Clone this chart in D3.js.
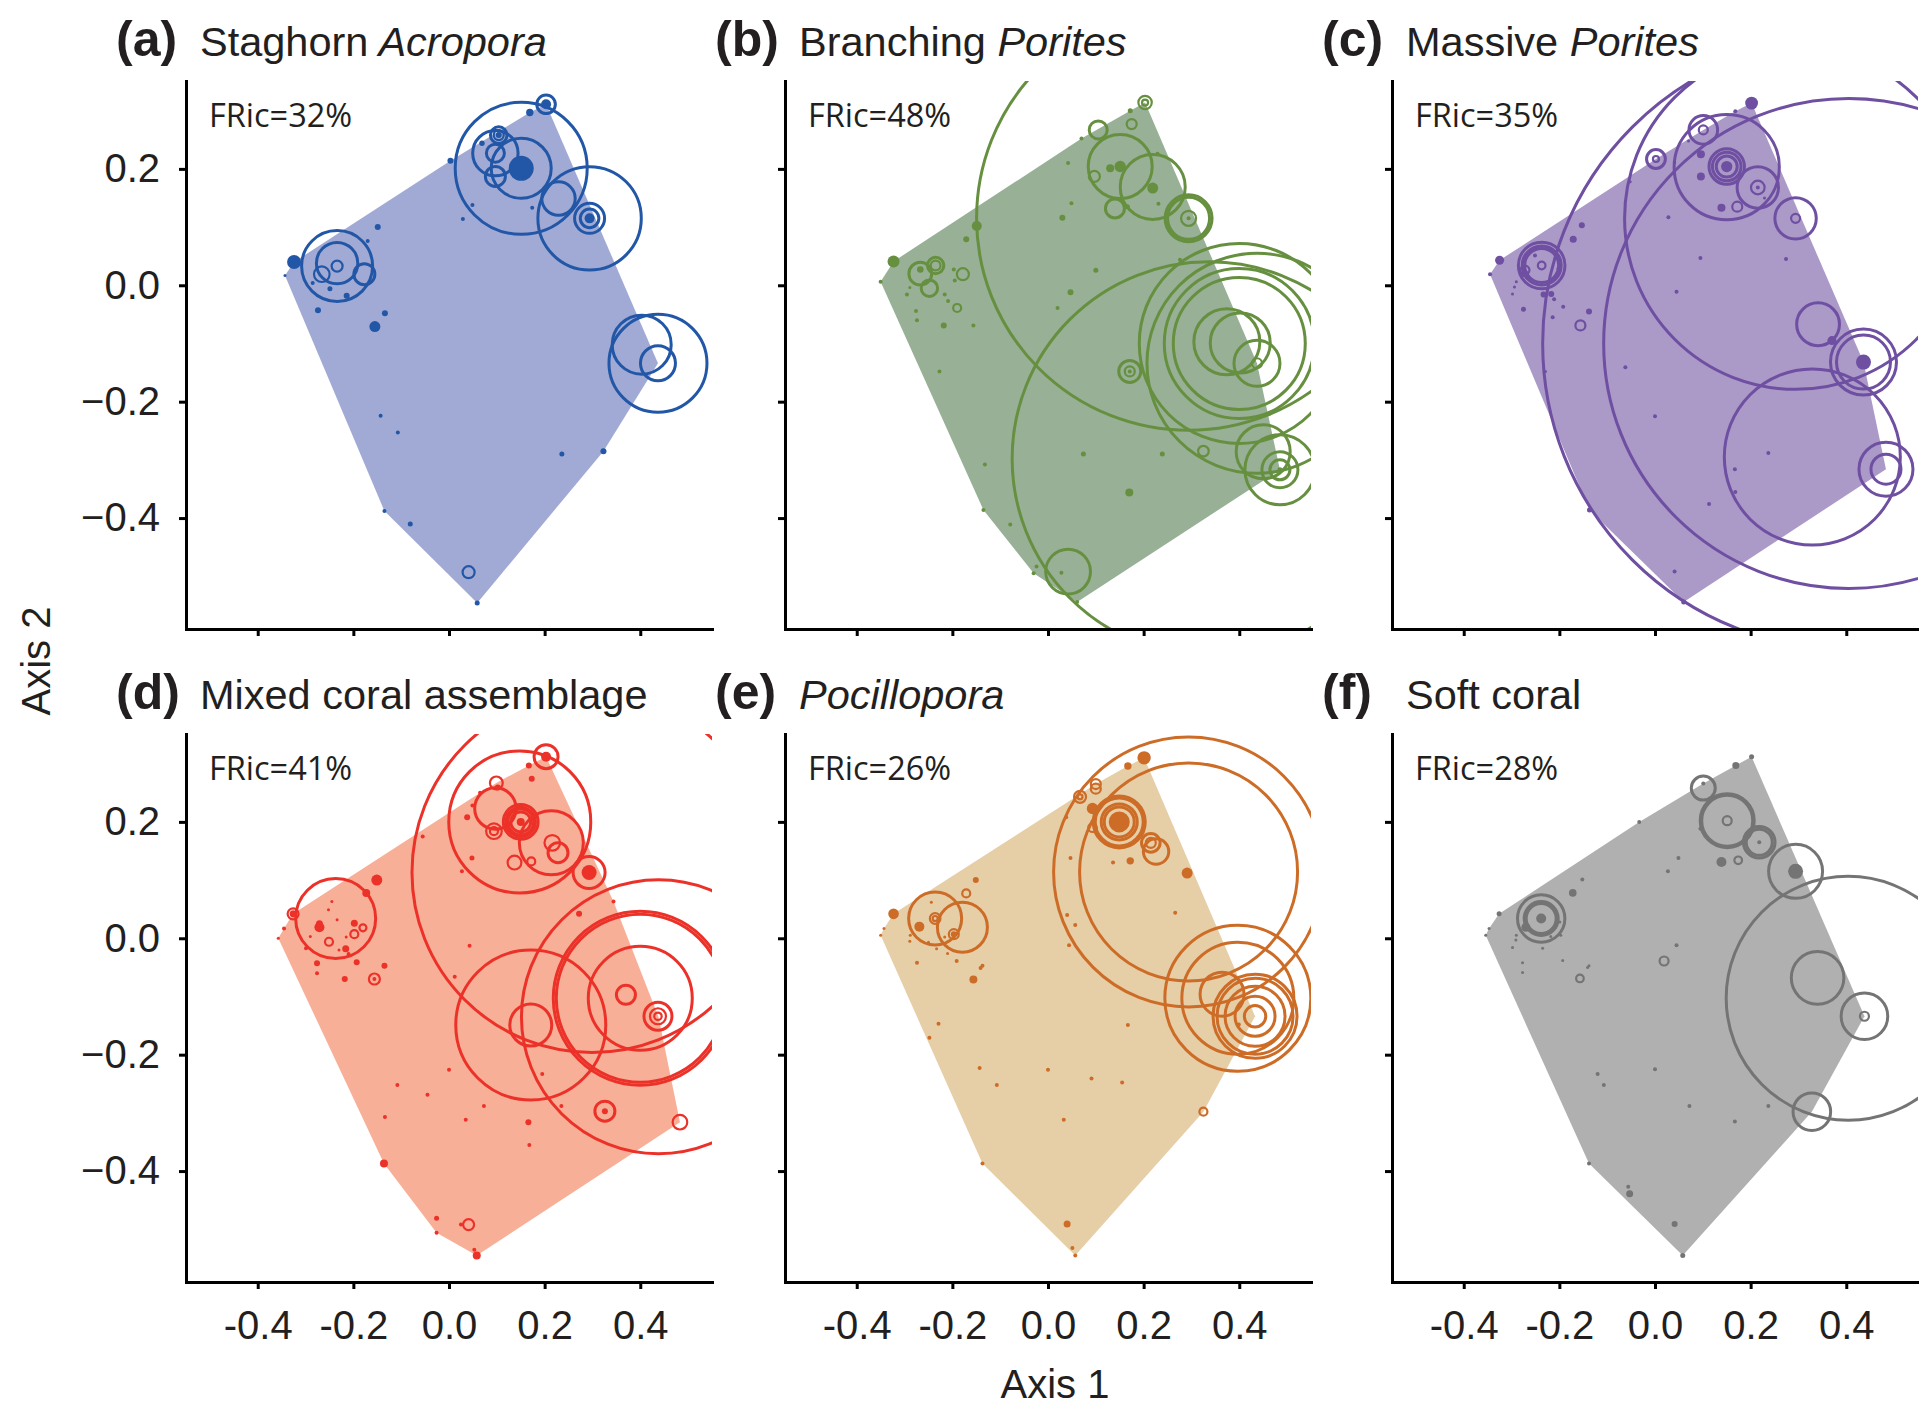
<!DOCTYPE html>
<html>
<head>
<meta charset="utf-8">
<script src="https://cdn.jsdelivr.net/npm/d3@7"></script>
<style>
body { margin: 0; background: #fff; }
svg { display: block; }
</style>
</head>
<body>
<div id="chart"></div>
<script>
const W = 1919, H = 1408;
const panelW = 526, panelH = 548;      // size of one plotting box
const colLeft = [186, 785, 1392];
const rowTop = [81, 734];
const textColor = "#231F20";
const sansFont = "'Liberation Sans', Arial, Helvetica, sans-serif";

var xTicks = [-0.4, -0.2, 0, 0.2, 0.4];
var yTicks = [-0.4, -0.2, 0, 0.2];
var panelLetters = ["(a)", "(b)", "(c)", "(d)", "(e)", "(f)"];
var panelTitles = ["Staghorn", "Branching", "Massive", "Mixed coral assemblage", "", "Soft coral"];
var panelGenus = ["Acropora", "Porites", "Porites", "", "Pocillopora", ""];
var fricValues = [32, 48, 35, 41, 26, 28];
var fillColors = ["#A1AAD4", "#97B096", "#AB99C8", "#F8AF97", "#E6CEA7", "#B0B0B0"];
var lineColors = ["#2257A7", "#66903F", "#6E4FA1", "#EC3129", "#CD6C27", "#747474"];

// [axis 1, axis 2, relative abundance, filled (1) or ring (0)]
var ptsA = [
  [-0.343,0.017,0.15,1],[-0.324,0.040,0.7,1],[-0.234,0.033,3.55,0],[-0.234,0.038,2.07,0],[-0.234,0.033,0.55,0],
  [-0.266,0.019,0.78,0],[-0.177,0.019,1.05,0],[-0.285,0.004,0.2,1],[-0.249,-0.006,0.25,1],[-0.214,-0.018,0.3,1],
  [-0.274,-0.043,0.3,1],[-0.170,0.076,0.2,1],[-0.149,0.100,0.3,1],[-0.134,-0.048,0.3,1],[-0.155,-0.071,0.55,1],
  [-0.143,-0.224,0.2,1],[-0.107,-0.253,0.2,1],[-0.135,-0.388,0.2,1],[-0.081,-0.410,0.25,1],[0.041,-0.493,0.6,0],
  [0.059,-0.546,0.25,1],[0.236,-0.290,0.25,1],[0.323,-0.285,0.3,1],[0.003,0.214,0.3,1],[0.029,0.114,0.2,1],
  [0.049,0.138,0.2,1],[0.174,0.133,0.2,1],[0.169,0.297,0.37,1],[0.203,0.311,0.93,0],[0.203,0.311,0.5,1],
  [0.151,0.201,6.6,0],[0.151,0.201,3.0,0],[0.151,0.201,1.25,1],[0.097,0.227,2.27,0],[0.097,0.227,0.9,0],
  [0.097,0.187,1.0,0],[0.104,0.258,0.83,0],[0.104,0.258,0.5,0],[0.104,0.258,0.3,1],[0.069,0.244,0.27,1],
  [0.229,0.149,1.67,0],[0.294,0.115,5.17,0],[0.294,0.115,1.5,0],[0.294,0.115,0.93,0],[0.294,0.115,0.5,1],
  [0.437,-0.134,4.9,0],[0.403,-0.102,2.95,0],[0.437,-0.134,1.75,0]
];
var ptsB = [
  [-0.350,0.006,0.2,1],[-0.323,0.041,0.6,1],[-0.267,0.020,1.14,0],[-0.267,0.027,0.33,1],[-0.235,0.034,0.82,0],
  [-0.235,0.034,0.49,0],[-0.248,-0.005,0.82,0],[-0.178,0.019,0.6,0],[-0.295,-0.016,0.2,1],[-0.276,-0.044,0.2,1],
  [-0.274,-0.060,0.2,1],[-0.216,-0.016,0.2,1],[-0.209,-0.027,0.2,1],[-0.218,-0.069,0.3,1],[-0.156,-0.069,0.2,1],
  [-0.197,0.027,0.2,1],[-0.195,0.008,0.2,1],[-0.289,-0.004,0.15,1],[-0.190,-0.039,0.4,0],[-0.171,0.079,0.3,1],
  [-0.149,0.102,0.5,1],[0.030,0.116,0.3,1],[0.049,0.141,0.2,1],[0.042,0.210,0.2,1],[0.070,0.252,0.2,1],
  [0.100,0.026,0.25,1],[0.047,-0.012,0.3,1],[0.020,-0.039,0.2,1],[-0.227,-0.148,0.2,1],[-0.132,-0.308,0.2,1],
  [-0.135,-0.386,0.2,1],[-0.079,-0.411,0.2,1],[-0.024,-0.483,0.2,1],[-0.030,-0.495,0.2,1],[0.042,-0.492,2.24,0],
  [0.028,-0.494,0.2,1],[0.061,-0.544,0.2,1],[0.074,-0.290,0.25,1],[0.170,-0.356,0.4,1],[0.239,-0.290,0.25,1],
  [0.325,-0.285,0.53,0],[0.171,-0.148,1.1,0],[0.171,-0.148,0.5,0],[0.171,-0.148,0.2,1],[0.294,0.115,21.2,0],
  [0.337,-0.298,19.7,0],[0.400,-0.100,10.0,0],[0.400,-0.100,7.5,0],[0.400,-0.100,6.6,0],[0.402,-0.099,3.0,0],
  [0.374,-0.097,3.3,0],[0.437,-0.134,2.3,0],[0.437,-0.134,0.5,0],[0.437,-0.134,11.0,0],[0.485,-0.317,3.5,0],
  [0.485,-0.317,1.8,0],[0.485,-0.317,1.0,0],[0.485,-0.317,0.25,1],[0.450,-0.286,2.7,0],
  [0.151,0.204,3.2,0],[0.219,0.169,3.25,0],[0.105,0.267,0.9,0],[0.175,0.277,0.5,0],[0.203,0.314,0.67,0],
  [0.203,0.314,0.3,0],[0.172,0.300,0.25,1],[0.097,0.187,0.55,0],[0.151,0.204,0.57,1],[0.130,0.201,0.4,1],
  [0.219,0.167,0.55,1],[0.140,0.132,0.95,0],[0.166,0.135,0.25,1],[0.294,0.115,2.35,0],[0.294,0.115,2.1,0],
  [0.294,0.115,0.75,0],[0.294,0.115,0.2,1],[0.229,0.226,0.2,1],[0.231,0.140,0.2,1],[0.276,0.044,0.2,1]
];
var ptsC = [
  [-0.345,0.019,0.2,1],[-0.325,0.043,0.45,1],[-0.237,0.034,2.33,0],[-0.237,0.034,1.95,0],[-0.237,0.034,1.7,0],
  [-0.237,0.034,0.38,0],[-0.272,0.026,0.45,0],[-0.272,0.020,0.35,1],[-0.290,0.006,0.15,1],[-0.294,-0.003,0.15,1],
  [-0.298,-0.015,0.15,1],[-0.275,-0.041,0.25,1],[-0.233,-0.016,0.3,1],[-0.217,-0.015,0.3,1],[-0.211,-0.024,0.2,1],
  [-0.192,-0.037,0.2,1],[-0.214,-0.055,0.2,1],[-0.251,0.051,0.2,1],[-0.246,0.065,0.15,1],[-0.203,0.029,0.15,1],
  [-0.171,0.079,0.35,1],[-0.153,0.103,0.3,1],[-0.156,-0.069,0.5,0],[-0.138,-0.045,0.3,1],[-0.229,-0.148,0.15,1],
  [-0.137,-0.386,0.25,1],[0.041,-0.492,0.2,1],[0.060,-0.544,0.25,1],[-0.062,-0.141,0.2,1],[0.000,-0.225,0.2,1],
  [0.113,-0.376,0.2,1],[0.168,-0.355,0.2,1],[0.167,-0.316,0.2,1],[0.237,-0.288,0.2,1],[0.045,-0.011,0.2,1],
  [0.095,0.047,0.2,1],[0.028,0.117,0.2,1],[0.274,0.045,0.2,1],[-0.052,0.178,0.15,1],[0.002,0.217,0.94,0],
  [0.002,0.217,0.3,0],[0.041,0.211,0.15,1],[0.101,0.267,1.43,0],[0.101,0.267,0.45,0],[0.168,0.299,0.2,1],
  [0.202,0.313,0.64,1],[0.070,0.248,0.15,1],[0.096,0.225,0.4,1],[0.096,0.187,0.4,1],[0.150,0.204,1.77,0],
  [0.150,0.204,1.43,0],[0.150,0.204,1.05,0],[0.150,0.204,0.56,1],[0.150,0.203,5.26,0],[0.215,0.168,2.07,0],
  [0.215,0.168,0.68,0],[0.215,0.168,0.2,1],[0.139,0.133,0.4,1],[0.172,0.135,0.5,0],[0.229,0.150,0.15,1],
  [0.294,0.115,2.07,0],[0.294,0.115,0.45,0],[0.294,0.115,17.1,0],[0.341,-0.067,2.14,0],[0.370,-0.095,0.45,1],
  [0.436,-0.132,3.3,0],[0.436,-0.132,2.7,0],[0.436,-0.132,0.75,1],[0.405,-0.100,30.6,0],[0.405,-0.100,24.5,0],
  [0.483,-0.316,2.7,0],[0.483,-0.316,1.5,0],[0.329,-0.295,8.8,0]
];
var ptsD = [
  [-0.357,0.000,0.15,1],[-0.345,0.017,0.2,1],[-0.326,0.042,0.55,0],[-0.326,0.042,0.35,1],[-0.237,0.034,4.0,0],
  [-0.151,0.100,0.55,1],[-0.173,0.078,0.4,1],[-0.271,0.019,0.5,1],[-0.271,0.025,0.35,1],[-0.251,-0.006,0.4,0],
  [-0.198,0.007,0.4,0],[-0.198,0.026,0.35,1],[-0.180,0.018,0.35,0],[-0.216,-0.018,0.35,1],[-0.193,-0.041,0.3,1],
  [-0.218,-0.070,0.3,1],[-0.276,-0.043,0.3,1],[-0.276,-0.060,0.2,1],[-0.156,-0.070,0.55,0],[-0.156,-0.070,0.2,1],
  [-0.135,-0.047,0.3,1],[-0.234,0.032,0.15,1],[-0.252,0.049,0.15,1],[-0.245,0.063,0.15,1],[-0.299,-0.017,0.2,1],
  [-0.290,0.003,0.15,1],[-0.230,-0.020,0.15,1],[-0.215,0.002,0.15,1],[-0.210,-0.027,0.2,1],
  [-0.108,-0.252,0.2,1],[-0.134,-0.307,0.2,1],[-0.045,-0.269,0.2,1],[-0.136,-0.387,0.4,1],[-0.026,-0.481,0.25,1],
  [-0.026,-0.506,0.2,1],[0.041,-0.492,0.55,0],[0.025,-0.492,0.2,1],[0.053,-0.535,0.2,1],[0.058,-0.545,0.4,1],
  [0.000,-0.226,0.2,1],[0.035,-0.312,0.2,1],[0.073,-0.288,0.2,1],[0.166,-0.316,0.3,1],[0.168,-0.355,0.2,1],
  [0.195,-0.233,0.2,1],[0.235,-0.288,0.2,1],[0.326,-0.297,1.0,0],[0.326,-0.297,0.3,1],[0.483,-0.316,0.73,0],
  [0.043,-0.013,0.2,1],[0.012,-0.066,0.2,1],[-0.055,0.175,0.2,1],[0.027,0.115,0.2,1],[0.048,0.138,0.25,1],
  [0.038,0.208,0.3,1],[0.049,0.228,0.2,1],[0.065,0.250,0.2,1],[0.099,0.267,0.64,0],[0.102,0.259,0.3,1],
  [0.097,0.223,2.07,0],[0.094,0.184,0.78,0],[0.094,0.184,0.4,0],[0.150,0.200,1.74,0],[0.150,0.200,1.47,0],
  [0.150,0.200,1.29,0],[0.150,0.200,1.0,0],[0.150,0.200,0.4,1],[0.148,0.200,7.1,0],[0.214,0.164,3.2,0],
  [0.216,0.164,0.78,0],[0.228,0.147,1.0,0],[0.137,0.130,0.69,0],[0.172,0.132,0.4,0],[0.203,0.312,1.2,0],
  [0.203,0.312,0.5,1],[0.167,0.297,0.3,1],[0.173,0.274,0.3,1],[0.293,0.113,1.6,0],[0.293,0.113,0.75,1],
  [0.299,0.113,18.0,0],[0.344,0.063,0.2,1],[0.272,0.042,0.3,1],[0.438,-0.135,13.7,0],[0.400,-0.103,8.7,0],
  [0.400,-0.103,8.4,0],[0.400,-0.103,5.2,0],[0.370,-0.097,0.95,0],[0.437,-0.134,1.4,0],[0.437,-0.134,0.8,0],
  [0.437,-0.134,0.37,0],[0.171,-0.149,2.1,0],[0.171,-0.149,7.5,0]
];
var ptsE = [
  [-0.350,0.005,0.15,1],[-0.343,0.017,0.15,1],[-0.323,0.042,0.53,1],[-0.269,0.020,0.5,1],[-0.236,0.034,2.65,0],
  [-0.236,0.034,0.53,0],[-0.236,0.034,0.25,0],[-0.179,0.019,2.5,0],[-0.197,0.007,0.5,0],[-0.197,0.007,0.3,1],
  [-0.171,0.077,0.4,0],[-0.151,0.100,0.3,1],[-0.244,0.062,0.15,1],[-0.288,0.005,0.15,1],[-0.289,-0.005,0.15,1],
  [-0.250,-0.007,0.15,1],[-0.233,-0.018,0.15,1],[-0.210,-0.026,0.15,1],[-0.216,0.002,0.15,1],[-0.191,-0.039,0.2,1],
  [-0.274,-0.042,0.2,1],[-0.141,-0.051,0.2,1],[-0.137,-0.047,0.2,1],[-0.156,-0.071,0.4,1],[-0.229,-0.147,0.2,1],
  [-0.248,-0.171,0.2,1],[-0.143,-0.223,0.2,1],[-0.107,-0.252,0.2,1],[-0.137,-0.387,0.2,1],[0.000,-0.226,0.2,1],
  [0.033,-0.312,0.2,1],[0.040,-0.491,0.35,1],[0.051,-0.532,0.2,1],[0.057,-0.545,0.2,1],[0.091,-0.241,0.2,1],
  [0.155,-0.248,0.2,1],[0.325,-0.298,0.4,0],[0.167,-0.149,0.2,1],[0.399,-0.148,0.2,1],[0.040,0.040,0.2,1],
  [0.057,0.023,0.2,1],[0.044,-0.012,0.2,1],[0.047,0.138,0.2,1],[0.136,0.130,0.2,1],[0.172,0.133,0.37,1],
  [0.291,0.112,0.55,1],[0.266,0.044,0.2,1],[0.038,0.208,0.2,1],[0.167,0.296,0.37,1],[0.201,0.310,0.67,1],
  [0.100,0.265,0.5,0],[0.100,0.257,0.5,0],[0.067,0.243,0.6,0],[0.067,0.243,0.25,0],[0.093,0.223,0.57,1],
  [0.093,0.190,0.43,0],[0.149,0.200,2.6,0],[0.149,0.200,2.4,0],[0.149,0.200,1.8,0],[0.149,0.200,1.5,0],
  [0.149,0.200,0.9,0],[0.149,0.200,0.83,1],[0.215,0.164,0.93,0],[0.215,0.164,0.5,0],[0.226,0.149,1.27,0],
  [0.294,0.114,13.5,0],[0.294,0.114,10.9,0],[0.397,-0.103,7.3,0],[0.397,-0.103,5.6,0],[0.364,-0.096,2.2,0],
  [0.433,-0.134,4.2,0],[0.433,-0.134,3.8,0],[0.433,-0.134,3.0,0],[0.433,-0.134,2.0,0],[0.433,-0.134,1.07,0]
];
var ptsF = [
  [-0.354,0.005,0.15,1],[-0.347,0.017,0.15,1],[-0.326,0.042,0.25,1],[-0.238,0.034,2.37,0],[-0.238,0.034,1.7,0],
  [-0.238,0.034,1.5,0],[-0.238,0.034,0.5,1],[-0.270,0.019,0.45,1],[-0.290,0.005,0.15,1],[-0.291,-0.003,0.15,1],
  [-0.298,-0.016,0.15,1],[-0.277,-0.042,0.15,1],[-0.277,-0.059,0.15,1],[-0.235,-0.017,0.15,1],[-0.218,0.003,0.15,1],
  [-0.197,0.005,0.15,1],[-0.199,0.028,0.15,1],[-0.193,-0.038,0.15,1],[-0.138,-0.047,0.15,1],[-0.141,-0.050,0.15,1],
  [-0.172,0.078,0.38,1],[-0.152,0.101,0.2,1],[-0.157,-0.069,0.38,0],[0.019,-0.039,0.45,0],[0.045,-0.012,0.2,1],
  [-0.120,-0.233,0.2,1],[-0.107,-0.252,0.2,1],[-0.138,-0.387,0.2,1],[-0.056,-0.427,0.2,1],[-0.053,-0.439,0.35,1],
  [0.041,-0.491,0.3,1],[0.058,-0.545,0.25,1],[0.000,-0.225,0.2,1],[0.072,-0.288,0.2,1],[0.167,-0.315,0.2,1],
  [0.237,-0.288,0.2,1],[0.328,-0.298,1.88,0],[0.404,-0.103,12.2,0],[0.340,-0.068,2.63,0],[0.438,-0.134,2.33,0],
  [0.438,-0.134,0.45,0],[-0.033,0.200,0.2,1],[0.049,0.138,0.2,1],[0.027,0.115,0.2,1],[0.101,0.258,1.2,0],
  [0.101,0.266,0.2,1],[0.169,0.297,0.35,1],[0.202,0.312,0.25,1],[0.151,0.202,2.7,0],[0.151,0.202,2.55,0],
  [0.151,0.202,0.45,0],[0.095,0.188,0.2,1],[0.218,0.165,1.58,0],[0.218,0.165,1.3,0],[0.218,0.165,0.2,1],
  [0.139,0.131,0.5,1],[0.174,0.134,0.38,0],[0.294,0.115,2.7,0],[0.294,0.115,0.75,1]
];
var panelPoints = [ptsA, ptsB, ptsC, ptsD, ptsE, ptsF];

var xScale = d3.scaleLinear().domain([-0.55, 0.55]).range([0, panelW]);
var yScale = d3.scaleLinear().domain([-0.5906, 0.351]).range([panelH, 0]);
var rScale = d3.scaleLinear().domain([0, 10]).range([0, 100]);   // abundance -> circle radius

var svg = d3.select("#chart").append("svg")
    .attr("width", W)
    .attr("height", H);

function drawAxes(g, leftCol, bottomRow) {
    var fmt = d3.format(".1f");
    var yAxis = d3.axisLeft(yScale).tickValues(yTicks).tickSize(7).tickSizeOuter(0).tickPadding(19)
        .tickFormat(function (d) { return leftCol ? fmt(d) : ""; });
    var xAxis = d3.axisBottom(xScale).tickValues(xTicks).tickSize(7).tickSizeOuter(0).tickPadding(22)
        .tickFormat(function (d) { return bottomRow ? fmt(d).replace("\u2212", "-") : ""; });

    var gy = g.append("g").attr("class", "y axis").call(yAxis);
    var gx = g.append("g").attr("class", "x axis")
        .attr("transform", "translate(0," + panelH + ")")
        .call(xAxis);

    [gx, gy].forEach(function (a) {
        a.select(".domain").attr("stroke", "#000").attr("stroke-width", 3).attr("stroke-linecap", "square");
        a.selectAll(".tick line").attr("stroke", "#000").attr("stroke-width", 3);
        a.selectAll(".tick text")
            .attr("fill", textColor)
            .style("font-family", sansFont)
            .style("font-size", "40px");
    });
}

function drawPanel(i) {
    var col = i % 3, row = Math.floor(i / 3);
    var g = svg.append("g")
        .attr("transform", "translate(" + colLeft[col] + "," + rowTop[row] + ")");
    var pts = panelPoints[i];

    g.append("clipPath").attr("id", "clip" + i)
        .append("rect").attr("width", panelW).attr("height", panelH);

    var plot = g.append("g").attr("clip-path", "url(#clip" + i + ")");

    // convex hull of the species present
    var hull = d3.polygonHull(pts.map(function (d) { return [xScale(d[0]), yScale(d[1])]; }));
    plot.append("path")
        .attr("d", "M" + hull.join("L") + "Z")
        .attr("fill", fillColors[i]);

    plot.selectAll(".ring").data(pts.filter(function (d) { return !d[3]; }))
        .enter().append("circle")
        .attr("class", "ring")
        .attr("cx", function (d) { return xScale(d[0]); })
        .attr("cy", function (d) { return yScale(d[1]); })
        .attr("r", function (d) { return rScale(d[2]); })
        .attr("fill", "none")
        .attr("stroke", lineColors[i])
        .attr("stroke-width", function (d) { return rScale(d[2]) > 8 ? 3 : 2.2; });

    plot.selectAll(".dot").data(pts.filter(function (d) { return d[3]; }))
        .enter().append("circle")
        .attr("class", "dot")
        .attr("cx", function (d) { return xScale(d[0]); })
        .attr("cy", function (d) { return yScale(d[1]); })
        .attr("r", function (d) { return rScale(d[2]); })
        .attr("fill", lineColors[i]);

    drawAxes(g, col == 0, row == 1);

    // panel title
    g.append("text")
        .attr("x", -70).attr("y", -25)
        .attr("fill", textColor)
        .style("font-family", sansFont).style("font-size", "50px").style("font-weight", "bold")
        .text(panelLetters[i]);
    var title = g.append("text")
        .attr("x", 14).attr("y", -25)
        .attr("fill", textColor)
        .style("font-family", sansFont).style("font-size", "41.5px");
    if (panelTitles[i]) title.append("tspan").text(panelTitles[i]);
    if (panelGenus[i]) title.append("tspan").style("font-style", "italic")
        .text((panelTitles[i] ? " " : "") + panelGenus[i]);

    g.append("text")
        .attr("x", 23).attr("y", 46)
        .attr("fill", textColor)
        .style("font-family", "'Open Sans', sans-serif").style("font-size", "32.5px")
        .text("FRic=" + fricValues[i] + "%");
}

for (var i = 0; i < 6; i++) drawPanel(i);

// axis titles
svg.append("text")
    .attr("x", 1055).attr("y", 1398)
    .attr("text-anchor", "middle")
    .attr("fill", textColor)
    .style("font-family", sansFont).style("font-size", "40px")
    .text("Axis 1");
svg.append("text")
    .attr("transform", "translate(50,661) rotate(-90)")
    .attr("text-anchor", "middle")
    .attr("fill", textColor)
    .style("font-family", sansFont).style("font-size", "40px")
    .text("Axis 2");
</script>
</body>
</html>
